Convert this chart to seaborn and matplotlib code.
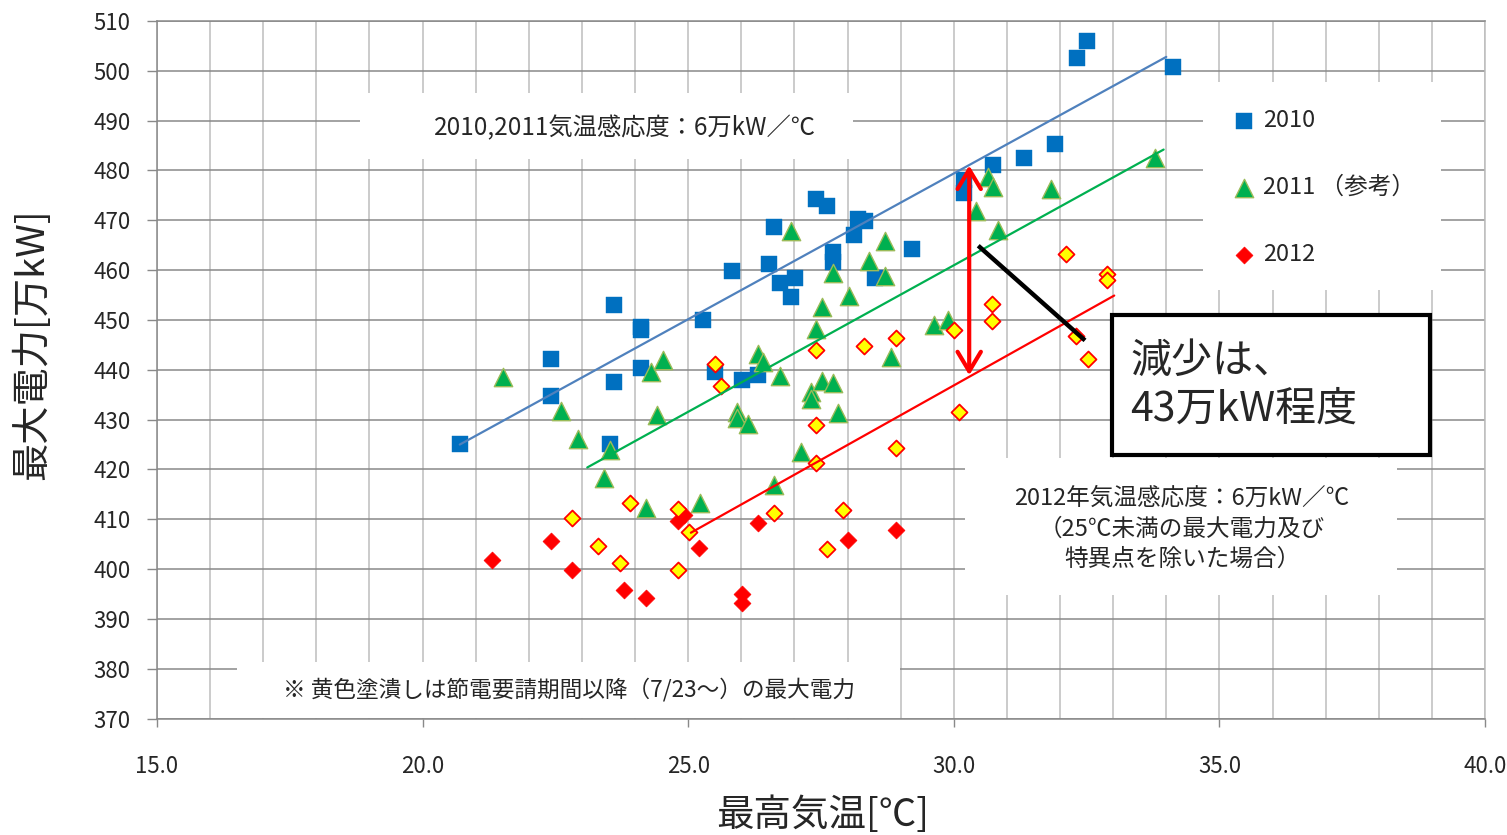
import matplotlib
matplotlib.use("Agg")
import matplotlib.pyplot as plt
import seaborn as sns
import pandas as pd
from matplotlib.patches import Rectangle
from matplotlib.ticker import MultipleLocator, FormatStrFormatter

# ---------------- data ----------------
temp_2010 = [20.71, 22.42, 22.42, 23.52, 23.61, 23.61, 24.12, 24.12, 24.12, 25.28, 25.51,
             25.82, 26.01, 26.31, 26.52, 26.61, 26.72, 26.93, 27.01, 27.41, 27.62, 27.72,
             27.72, 28.12, 28.19, 28.32, 28.51, 29.21, 30.19, 30.19, 30.73, 31.32, 31.90,
             32.32, 32.51, 34.12]
power_2010 = [425.2, 442.1, 434.8, 425.2, 453.1, 437.5, 448.6, 447.9, 440.4, 450.0, 439.5,
              459.9, 437.9, 438.9, 461.2, 468.7, 457.4, 454.7, 458.4, 474.3, 472.9, 463.6,
              461.6, 467.1, 470.3, 469.8, 458.4, 464.2, 475.5, 478.0, 481.1, 482.5, 485.3,
              502.6, 505.9, 500.8]

temp_2011 = [21.51, 22.61, 22.92, 23.41, 23.52, 24.21, 24.30, 24.42, 24.52, 25.23, 25.92,
             25.92, 26.13, 26.32, 26.41, 26.62, 26.72, 26.93, 27.12, 27.31, 27.31, 27.41,
             27.52, 27.52, 27.72, 27.72, 27.82, 28.02, 28.41, 28.71, 28.71, 28.82, 29.62,
             29.90, 30.42, 30.64, 30.73, 30.83, 31.83, 33.79]
power_2011 = [438.5, 431.8, 426.2, 418.2, 424.0, 412.3, 439.5, 431.0, 441.9, 413.3, 431.5,
              430.4, 429.2, 443.2, 441.5, 416.8, 438.7, 467.8, 423.6, 435.5, 434.2, 448.2,
              452.7, 437.7, 459.4, 437.4, 431.3, 454.9, 461.8, 465.9, 458.8, 442.5, 448.9,
              449.9, 471.9, 478.6, 476.6, 468.1, 476.3, 482.5]

# 2012, after the power-saving request (yellow fill)
temp_2012_after = [22.81, 23.31, 23.71, 23.91, 24.81, 24.81, 25.02, 25.51, 25.61, 26.61,
                   27.41, 27.41, 27.41, 27.62, 27.91, 28.31, 28.91, 28.91, 30.01, 30.10,
                   30.71, 30.71, 32.11, 32.30, 32.52, 32.89, 32.89]
power_2012_after = [410.3, 404.6, 401.2, 413.3, 412.1, 399.9, 407.5, 441.2, 436.7, 411.3,
                    443.9, 429.0, 421.3, 404.1, 411.9, 444.7, 446.4, 424.4, 447.9, 431.5,
                    453.3, 449.7, 463.2, 446.7, 442.2, 459.2, 458.0]

# 2012, before the request (red fill)
temp_2012 = [21.31, 22.41, 22.81, 23.80, 24.21, 24.81, 24.92, 25.21, 26.01, 26.01, 26.31,
             28.00, 28.91]
power_2012 = [401.9, 405.6, 399.9, 395.9, 394.3, 409.7, 410.8, 404.3, 395.1, 393.1, 409.3,
              405.8, 407.9]

# trend lines (end points)
trend_x_2010 = [20.70, 34.00]
trend_y_2010 = [425.0, 502.8]
trend_x_2011 = [23.10, 33.95]
trend_y_2011 = [420.4, 484.2]
trend_x_2012 = [25.05, 33.02]
trend_y_2012 = [407.3, 454.9]

# annotation geometry in data units
arrow_x = [30.29, 30.29]
arrow_y = [481.0, 438.9]
pointer_x = [30.46, 32.47]
pointer_y = [464.9, 445.9]

legend_labels = ["2010", "2011 （参考）", "2012"]
x_ticks_label_fmt = "%.1f"

# ---------------- style ----------------
sns.set_style("white")
plt.rcParams["font.family"] = ["Noto Sans CJK JP", "DejaVu Sans"]

W, H = 1507, 835
L, R, T, B = 157, 1485, 21, 718.6
fig = plt.figure(figsize=(W / 100, H / 100), dpi=100)
ax = fig.add_axes([L / W, 1 - B / H, (R - L) / W, (B - T) / H])


def fx(px):
    return (px - L) / (R - L)


def fy(py):
    return (B - py) / (B - T)


df10 = pd.DataFrame({"temp": temp_2010, "power": power_2010})
df11 = pd.DataFrame({"temp": temp_2011, "power": power_2011})
df12 = pd.DataFrame({"temp": temp_2012, "power": power_2012})
df12a = pd.DataFrame({"temp": temp_2012_after, "power": power_2012_after})

sns.scatterplot(data=df10, x="temp", y="power", ax=ax, marker="s", s=118,
                color="#0070C0", edgecolor="#0070C0", linewidth=0.3,
                label=legend_labels[0], zorder=3)
sns.scatterplot(data=df11, x="temp", y="power", ax=ax, marker="^", s=175,
                color="#00B050", edgecolor="#9BBB59", linewidth=1.0,
                label=legend_labels[1], zorder=4)
sns.scatterplot(data=df12, x="temp", y="power", ax=ax, marker="D", s=74,
                color="#FF0000", edgecolor="#FF0000", linewidth=0.5,
                label=legend_labels[2], zorder=5)
sns.scatterplot(data=df12a, x="temp", y="power", ax=ax, marker="D", s=66,
                color="#FFFF00", edgecolor="#FF0000", linewidth=1.3,
                label="_after", zorder=6)

sns.lineplot(x=trend_x_2010, y=trend_y_2010, ax=ax, color="#4F81BD", lw=1.6, zorder=7)
sns.lineplot(x=trend_x_2011, y=trend_y_2011, ax=ax, color="#00B050", lw=1.6, zorder=7)
sns.lineplot(x=trend_x_2012, y=trend_y_2012, ax=ax, color="#FF0000", lw=1.6, zorder=7)

# axes
ax.set_xlim(15, 40)
ax.set_ylim(370, 510)
ax.xaxis.set_major_locator(MultipleLocator(5))
ax.xaxis.set_minor_locator(MultipleLocator(1))
ax.yaxis.set_major_locator(MultipleLocator(10))
ax.xaxis.set_major_formatter(FormatStrFormatter(x_ticks_label_fmt))
ax.set_axisbelow(True)
ax.grid(True, which="both", axis="x", color="#BDBDBD", lw=1.1)
ax.grid(True, which="major", axis="y", color="#898989", lw=1.1)
ax.tick_params(axis="x", which="major", bottom=True, direction="out", length=6,
               width=1, color="#898989", pad=20, labelsize=16)
ax.tick_params(axis="x", which="minor", bottom=False, length=0)
ax.tick_params(axis="y", which="major", left=True, direction="out", length=7,
               width=1, color="#898989", pad=12, labelsize=16)
for side in ["left", "bottom"]:
    ax.spines[side].set_color("#898989")
    ax.spines[side].set_linewidth(1.1)
ax.spines["top"].set_color("#898989")
ax.spines["top"].set_linewidth(1.1)
ax.spines["right"].set_color("#BDBDBD")
ax.spines["right"].set_linewidth(1.1)

ax.set_xlabel("最高気温[℃]", fontsize=27, va="center")
ax.set_ylabel("最大電力[万kW]", fontsize=27.5, va="center")
ax.xaxis.set_label_coords(fx(823), fy(815))
ax.yaxis.set_label_coords(fx(33), fy(344))


def white_box(x0, y0, x1, y1, z=1.5, edge="none", lw=0):
    ax.add_patch(Rectangle((fx(x0), fy(y1)), fx(x1) - fx(x0), fy(y0) - fy(y1),
                           transform=ax.transAxes, facecolor="white",
                           edgecolor=edge, lw=lw, zorder=z, clip_on=False))


white_box(360, 93, 853, 159)
white_box(1203, 82, 1441, 290)
white_box(965, 458, 1397, 595)
white_box(237, 662, 900, 717.5)

ax.text(fx(625), fy(128), "2010,2011気温感応度：6万kW／℃", transform=ax.transAxes,
        ha="center", va="center", fontsize=17.5, zorder=10)
ax.text(fx(1182), fy(529), "2012年気温感応度：6万kW／℃\n（25℃未満の最大電力及び\n特異点を除いた場合）",
        transform=ax.transAxes, ha="center", va="center", fontsize=17,
        linespacing=1.42, zorder=10)
ax.text(fx(569), fy(690), "※ 黄色塗潰しは節電要請期間以降（7/23～）の最大電力",
        transform=ax.transAxes, ha="center", va="center", fontsize=16.3, zorder=10)

white_box(1112, 315, 1430, 455, z=11, edge="black", lw=3)
ax.text(fx(1130), fy(385), "減少は、\n43万kW程度", transform=ax.transAxes,
        ha="left", va="center", fontsize=29.5, linespacing=1.2, zorder=12)

ax.annotate("", xy=(arrow_x[1], arrow_y[1]), xytext=(arrow_x[0], arrow_y[0]),
            arrowprops=dict(arrowstyle="<->,head_length=0.5,head_width=0.3",
                            color="#FF0000", lw=3, mutation_scale=28,
                            shrinkA=0, shrinkB=0), zorder=9)
ax.plot(pointer_x, pointer_y, color="black", lw=3.2, zorder=9, solid_capstyle="butt")

leg = ax.legend(loc="upper left", bbox_to_anchor=(fx(1230), fy(109)), frameon=False,
                fontsize=17, labelspacing=1.87, handletextpad=0.2, handlelength=1.2,
                borderpad=0, borderaxespad=0)

fig.savefig("out.png", dpi=100)
